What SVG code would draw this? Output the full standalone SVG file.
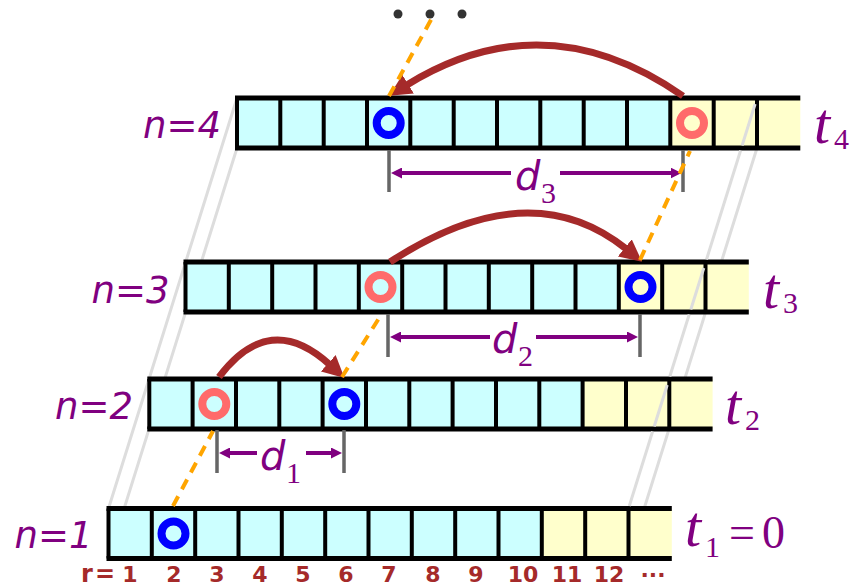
<svg xmlns="http://www.w3.org/2000/svg" width="849" height="588" viewBox="0 0 849 588">
<defs>
<style>
.cy{fill:#ccffff}
.ye{fill:#ffffcc}
.dv{stroke:#000;stroke-width:4;fill:none}
.hz{stroke:#000;stroke-width:5;fill:none}
.ring{fill:none;stroke-width:8}
.blue{stroke:#0000ff}
.red{stroke:#ff6b6b}
.guide{stroke:#dddddd;stroke-width:3;fill:none}
.od{stroke:#ffa500;stroke-width:4;stroke-dasharray:11 8;fill:none}
.arc{stroke:#a52a2a;stroke-width:7;fill:none;marker-end:url(#bh)}
.tick{stroke:#666666;stroke-width:3.5}
.dim{stroke:#800080;stroke-width:4;fill:none;marker-end:url(#ph)}
.nl{font-family:"DejaVu Sans",sans-serif;font-style:oblique;font-size:37px;fill:#800080;text-anchor:end}
.tl{font-family:"Liberation Serif",serif;font-style:italic;font-size:58px;fill:#800080}
.sub{font-family:"Liberation Serif",serif;font-size:30px;fill:#800080}
.eq{font-family:"Liberation Serif",serif;font-size:46px;fill:#800080}
.dl{font-family:"DejaVu Sans",sans-serif;font-style:oblique;font-size:40px;fill:#800080}
.rl{font-family:"DejaVu Sans",sans-serif;font-weight:bold;font-size:22px;fill:#a52a2a;text-anchor:middle}
</style>
<marker id="bh" markerUnits="userSpaceOnUse" markerWidth="22" markerHeight="22" viewBox="0 0 22 22" refX="2" refY="11" orient="auto"><path d="M0,0 L22,11 L0,22 z" fill="#a52a2a"/></marker>
<marker id="ph" markerUnits="userSpaceOnUse" markerWidth="11" markerHeight="11" viewBox="0 0 11 11" refX="1" refY="5.5" orient="auto"><path d="M0,0 L11,5.5 L0,11 z" fill="#800080"/></marker>
</defs>

<g id="guides-back" class="guide">
<path d="M108.5,508.5 L237,98 M108.5,558.5 L237,148 M628.5,558.5 L757,148"/>
</g>

<g id="row-n1">
<rect class="cy" x="108.5" y="508.5" width="433.3" height="50"/>
<rect class="ye" x="541.8" y="508.5" width="130" height="50"/>
<path class="dv" d="M108.5,508.5v50M151.8,508.5v50M195.2,508.5v50M238.5,508.5v50M281.8,508.5v50M325.2,508.5v50M368.5,508.5v50M411.8,508.5v50M455.2,508.5v50M498.5,508.5v50M541.8,508.5v50M585.2,508.5v50M628.5,508.5v50"/>
<path class="hz" d="M106.5,508.5H671.8M106.5,558.5H671.8"/>
<circle class="ring blue" cx="173.5" cy="533.5" r="12"/>
<text class="nl" x="92.5" y="548">n=1</text>
<text class="tl" x="685" y="546">t</text>
<text class="sub" x="705" y="557">1</text>
<text class="eq" x="729" y="548">=</text>
<text class="eq" x="762" y="548">0</text>
</g>

<g id="row-n2">
<rect class="cy" x="149.3" y="379" width="433.3" height="50"/>
<rect class="ye" x="582.6" y="379" width="130" height="50"/>
<path class="dv" d="M149.3,379v50M192.6,379v50M236,379v50M279.3,379v50M322.6,379v50M366,379v50M409.3,379v50M452.6,379v50M496,379v50M539.3,379v50M582.6,379v50M626,379v50M669.3,379v50"/>
<path class="hz" d="M147.3,379H712.6M147.3,429H712.6"/>
<circle class="ring red" cx="214.3" cy="404" r="12"/>
<circle class="ring blue" cx="344.3" cy="404" r="12"/>
<text class="nl" x="133" y="419">n=2</text>
<text class="tl" x="725" y="424">t</text>
<text class="sub" x="745" y="430">2</text>
</g>

<g id="row-n3">
<rect class="cy" x="185.5" y="262" width="433.3" height="50"/>
<rect class="ye" x="618.8" y="262" width="130" height="50"/>
<path class="dv" d="M185.5,262v50M228.8,262v50M272.2,262v50M315.5,262v50M358.8,262v50M402.2,262v50M445.5,262v50M488.8,262v50M532.2,262v50M575.5,262v50M618.8,262v50M662.2,262v50M705.5,262v50"/>
<path class="hz" d="M183.5,262H748.8M183.5,312H748.8"/>
<circle class="ring red" cx="380.5" cy="287" r="12"/>
<circle class="ring blue" cx="640.5" cy="287" r="12"/>
<text class="nl" x="169.5" y="302.5">n=3</text>
<text class="tl" x="763" y="308">t</text>
<text class="sub" x="783" y="313">3</text>
</g>

<g id="row-n4">
<rect class="cy" x="237" y="98" width="433.3" height="50"/>
<rect class="ye" x="670.3" y="98" width="130" height="50"/>
<path class="dv" d="M237,98v50M280.3,98v50M323.7,98v50M367,98v50M410.3,98v50M453.7,98v50M497,98v50M540.3,98v50M583.7,98v50M627,98v50M670.3,98v50M713.7,98v50M757,98v50"/>
<path class="hz" d="M235,98H800.3M235,148H800.3"/>
<circle class="ring blue" cx="388.7" cy="123" r="12"/>
<circle class="ring red" cx="692" cy="123" r="12"/>
<text class="nl" x="221" y="138">n=4</text>
<text class="tl" x="814" y="143">t</text>
<text class="sub" x="834" y="149">4</text>
</g>

<g id="guides-front" class="guide">
<path d="M629.3,506 L652.6,431.5 M654.2,426.5 L667.2,385 M669.8,376.5 L689.2,314.5 M690.8,309.5 L703.8,268 M706.5,259.5 L740.6,150.5 M742.1,145.5 L755.1,104"/>
</g>

<g id="connectors">
<path class="arc" d="M219,377 Q269.5,309.8 329.7,364.6"/>
<path class="arc" d="M390,262 Q529.4,171 626.4,249.1"/>
<path class="arc" d="M683,96 Q544.7,-0.3 406.4,85.2"/>
<g id="dim-d3">
<path class="tick" d="M389,150V192M683,150V192"/>
<path class="dim" d="M511,173H401"/>
<path class="dim" d="M560,173H671.5"/>
<text class="dl" x="515" y="190">d</text>
<text class="sub" x="541" y="203">3</text>
</g>
<g id="dim-d2">
<path class="tick" d="M388,314V357M640,314V357"/>
<path class="dim" d="M490,337H400"/>
<path class="dim" d="M536,337H628"/>
<text class="dl" x="492" y="353">d</text>
<text class="sub" x="518" y="366">2</text>
</g>
<g id="dim-d1">
<path class="tick" d="M217,430V473M344,430V473"/>
<path class="dim" d="M257,453H229"/>
<path class="dim" d="M306,453H332"/>
<text class="dl" x="260" y="470">d</text>
<text class="sub" x="286" y="483">1</text>
</g>
<path class="od" d="M173,506 L213,431"/>
<path class="od" d="M342,377 L381,315"/>
<path class="od" d="M640,260 L690,151"/>
<path class="od" d="M389,96 L432,18"/>
</g>

<g id="more-dots" fill="#333333">
<circle cx="398" cy="14" r="4.5"/>
<circle cx="430" cy="14" r="4.5"/>
<circle cx="462" cy="14" r="4.5"/>
</g>

<g id="r-axis">
<text class="rl" x="117" y="582" style="text-anchor:end;font-size:24px;letter-spacing:2px">r=</text>
<text class="rl" x="130" y="582">1</text>
<text class="rl" x="174" y="582">2</text>
<text class="rl" x="217" y="582">3</text>
<text class="rl" x="260" y="582">4</text>
<text class="rl" x="303" y="582">5</text>
<text class="rl" x="346" y="582">6</text>
<text class="rl" x="389" y="582">7</text>
<text class="rl" x="433" y="582">8</text>
<text class="rl" x="476" y="582">9</text>
<text class="rl" x="523" y="582">10</text>
<text class="rl" x="567" y="582">11</text>
<text class="rl" x="609" y="582">12</text>
<text class="rl" x="653" y="582">···</text>
</g>
</svg>
